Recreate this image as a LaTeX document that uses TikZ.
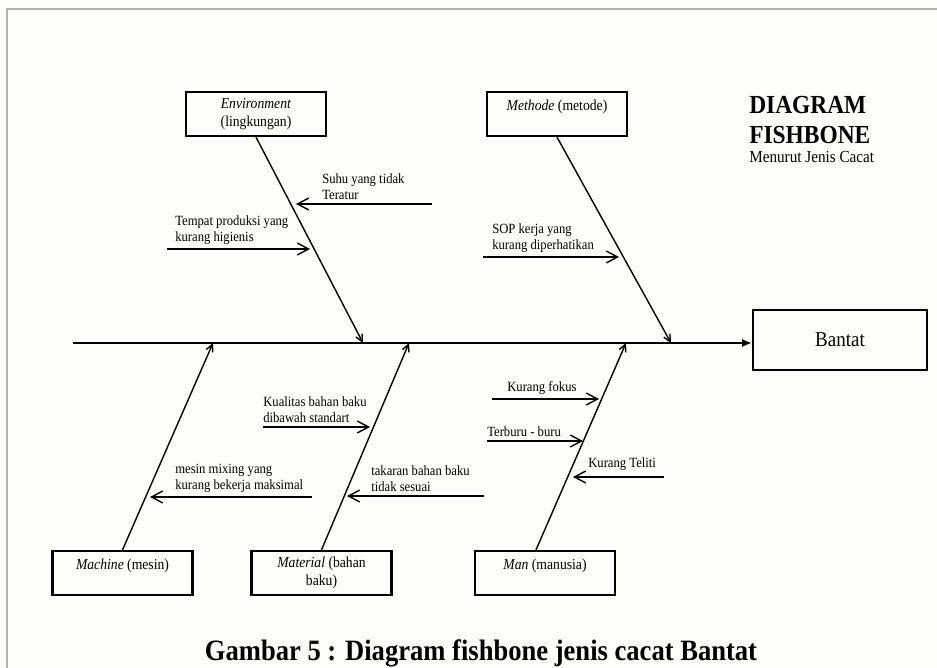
\documentclass[tikz,border=0pt]{standalone}
\usepackage{fontspec}
\setmainfont{Liberation Serif}[FakeStretch=0.9]
\usepackage{tikz}
\usetikzlibrary{arrows.meta}
\usetikzlibrary{calc}
\definecolor{paper}{RGB}{253,253,251}
\tikzset{every edge/.style={draw}}
\tikzset{catbox/.style={draw, line width=1.6pt, minimum width=3.5cm, minimum height=1.1cm, align=center, font=\fontsize{10.8}{13}\selectfont}}
\tikzset{cause/.style={anchor=south west, inner sep=0pt, align=left, font=\fontsize{10}{11.4}\selectfont}}
\tikzset{bone/.style={line width=1pt, -{Straight Barb[length=5pt,width=5pt]}}}
\tikzset{twig/.style={line width=1pt, -{Straight Barb[length=8pt,width=8.5pt]}}}

\begin{document}
\begin{tikzpicture}[x=0.025cm, y=-0.025cm]
    \useasboundingbox[fill=paper] (0,0) rectangle (937,668);
    \draw[gray!60, line width=1.4pt] (7,668) -- (7,9) -- (937,9);

    % kotak penyebab
    \node[catbox] at (256,114) (env) {\textit{Environment}\\(lingkungan)};
    \node[catbox] at (557,114) (meth) {\textit{Methode} (metode)\\~};
    \node[catbox] at (122.5,573) (mach) {\textit{Machine} (mesin)\\~};
    \node[catbox] at (321.5,573) (mat) {\textit{Material} (bahan\\baku)};
    \node[catbox] at (545,573) (man) {\textit{Man} (manusia)\\~};
    \node[catbox, minimum width=4.35cm, minimum height=1.5cm, font=\fontsize{15}{18}\selectfont] at (840,340) (bantat) {Bantat};

    % tulang utama
    \coordinate (tail) at (73,343);
    \draw[line width=2pt, -{Latex[length=7pt,width=6pt]}] (tail) -- (tail -| bantat.west);

    \coordinate (envtip) at (363,343);
    \coordinate (methtip) at (671,343);
    \coordinate (machtip) at (213,343);
    \coordinate (mattip) at (409,343);
    \coordinate (mantip) at (626,343);
    \draw[bone] (env.south) -- (envtip);
    \draw[bone] (meth.south) -- (methtip);
    \draw[bone] (mach.north) -- (machtip);
    \draw[bone] (mat.north) -- (mattip);
    \draw[bone] ($(man.north)+(-9,0)$) -- (mantip);

    % sebab-sebab
    \coordinate (suhuS) at (432,204);  \coordinate (suhuE) at (296,204);
    \coordinate (tempS) at (167,249);  \coordinate (tempE) at (310,249);
    \coordinate (sopS) at (483,257);   \coordinate (sopE) at (619,257);
    \coordinate (kualS) at (263,427);  \coordinate (kualE) at (370,427);
    \coordinate (mesS) at (312,497);   \coordinate (mesE) at (150,497);
    \coordinate (takS) at (484,496);   \coordinate (takE) at (347,496);
    \coordinate (fokS) at (492,399);   \coordinate (fokE) at (599,399);
    \coordinate (burS) at (487,441);   \coordinate (burE) at (583,441);
    \coordinate (telS) at (664,477);   \coordinate (telE) at (573,477);
    \draw (suhuS) edge[twig] (suhuE) (tempS) edge[twig] (tempE) (sopS) edge[twig] (sopE);
    \draw (kualS) edge[twig] (kualE) (mesS) edge[twig] (mesE) (takS) edge[twig] (takE);
    \draw (fokS) edge[twig] (fokE) (burS) edge[twig] (burE) (telS) edge[twig] (telE);

    \node[cause] at (322,200) (suhu) {Suhu yang tidak\\Teratur};
    \node[cause] at (175,245) (tempat) {Tempat produksi yang\\kurang higienis};
    \node[cause] at (492,253) (sop) {SOP kerja yang\\kurang diperhatikan};
    \node[cause] at (263,423) (kualitas) {Kualitas bahan baku\\dibawah standart};
    \node[cause] at (175,493) (mesin) {mesin mixing yang\\kurang bekerja maksimal};
    \node[cause] at (371,492) (takaran) {takaran bahan baku\\tidak sesuai};
    \node[cause] at (507,395) (fokus) {Kurang fokus};
    \node[cause] at (487,437) (buru) {Terburu - buru};
    \node[cause] at (588,471) (teliti) {Kurang Teliti};

    % judul
    \node[anchor=base west, inner sep=0pt, font=\fontsize{18.5}{22}\selectfont\bfseries] at (749,114) (judul1) {DIAGRAM};
    \node[anchor=base west, inner sep=0pt, font=\fontsize{18.5}{22}\selectfont\bfseries] at (749,144) (judul2) {FISHBONE};
    \node[anchor=base west, inner sep=0pt, font=\fontsize{12}{14}\selectfont] at (749,163) (subjudul) {Menurut Jenis Cacat};
    \node[anchor=base, font=\fontsize{21}{25}\selectfont\bfseries] at (481,660) (gambar) {Gambar 5 : Diagram fishbone jenis cacat Bantat};
\end{tikzpicture}
\end{document}
